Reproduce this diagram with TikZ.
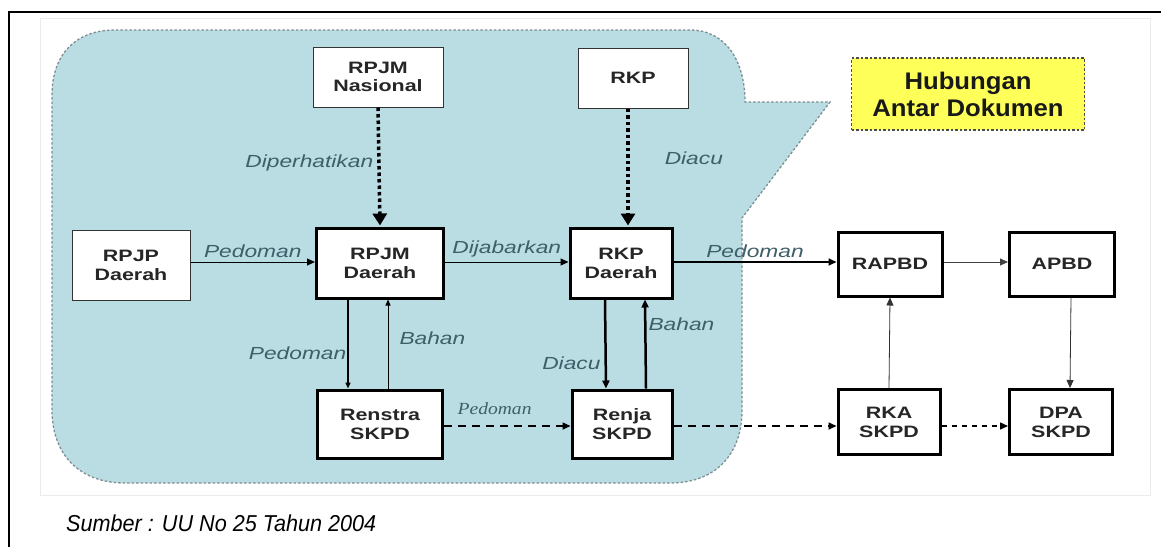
\documentclass[tikz,border=0pt]{standalone}
\usepackage{fontspec}
\setmainfont{Liberation Sans}[FakeStretch=1.3]
\newfontfamily\plainsans{Liberation Sans}[FakeStretch=0.94]
\newfontfamily\hubfont{Liberation Sans}[FakeStretch=1.07]
\newfontfamily\serifit{Liberation Serif}[FakeStretch=1.15]
\usetikzlibrary{arrows.meta}
\definecolor{calloutfill}{HTML}{B9DDE3}
\definecolor{calloutedge}{HTML}{7E8E92}
\definecolor{labelcol}{HTML}{3E5E68}
\definecolor{hubfill}{HTML}{FFFF5A}
\begin{document}
\begin{tikzpicture}[x=1pt,y=-1pt,
  doc/.style={draw=black!80,fill=white,line width=1pt,text=black!85,font=\bfseries\fontsize{16.5}{19}\selectfont,align=center,inner sep=0pt},
  docthick/.style={doc,line width=3pt,draw=black},
  lbl/.style={font=\itshape\fontsize{17.5}{19}\selectfont,text=labelcol,inner sep=1pt},
  tip/.style={-{Triangle[length=8pt,width=7pt]}},
  smalltip/.style={-{Triangle[length=6pt,width=5pt]}},
  dotarrow/.style={line width=3.5pt,dash pattern=on 3.5pt off 3pt,-{Triangle[length=12pt,width=14pt]},shorten >=1pt},
]
\useasboundingbox (0,0) rectangle (1161,547);
\fill[white] (0,0) rectangle (1161,547);
% frame
\draw[line width=1.2pt] (9,547) -- (9,12) -- (1161,12);
\draw[black!8,line width=0.8pt] (40,495) -- (40,18) -- (1150,18) -- (1150,495) -- cycle;
% callout
\draw[calloutedge,fill=calloutfill,line width=1.3pt,dash pattern=on 2.5pt off 2pt]
  (52,410) -- (52,95) .. controls (52,55) and (75,30) .. (115,30)
  -- (690,30) .. controls (725,30) and (745,60) .. (745,102)
  -- (830,102) -- (742,218) -- (742,410)
  .. controls (742,455) and (715,483) .. (670,483)
  -- (125,483) .. controls (80,483) and (52,455) .. (52,410) -- cycle;
% nodes
\node[doc,minimum width=130pt,minimum height=60pt] (rpjmn) at (378,77) {RPJM\\[-1pt]Nasional};
\node[doc,minimum width=110pt,minimum height=60pt] (rkp) at (633,78) {RKP};
\node[draw=black!70,fill=hubfill,dash pattern=on 2.5pt off 2pt,line width=1.3pt,minimum width=233pt,minimum height=72pt,align=center,font=\hubfont\bfseries\fontsize{24}{27}\selectfont,text=black!90,inner sep=0pt] (hub) at (968,94) {Hubungan\\Antar Dokumen};
\node[doc,minimum width=118pt,minimum height=70pt] (rpjp) at (131,265) {RPJP\\Daerah};
\node[docthick,minimum width=127pt,minimum height=70pt] (rpjmd) at (380,263) {RPJM\\Daerah};
\node[docthick,minimum width=102pt,minimum height=70pt] (rkpd) at (621,263) {RKP\\Daerah};
\node[docthick,minimum width=104pt,minimum height=64pt] (rapbd) at (890,264) {RAPBD};
\node[docthick,minimum width=105pt,minimum height=64pt] (apbd) at (1062,264) {APBD};
\node[docthick,minimum width=125pt,minimum height=68pt] (renstra) at (380,424) {Renstra\\SKPD};
\node[docthick,minimum width=100pt,minimum height=68pt] (renja) at (622,424) {Renja\\SKPD};
\node[docthick,minimum width=102pt,minimum height=65pt] (rka) at (889,422) {RKA\\SKPD};
\node[docthick,minimum width=103pt,minimum height=65pt] (dpa) at (1061,422) {DPA\\SKPD};
% dotted arrows
\draw[dotarrow] (rpjmn.south) -- (rpjmd.north) node[lbl,pos=0.47,left=3pt] {Diperhatikan};
\draw[dotarrow] (rkp.south -| 628,0) -- (rkpd.north -| 628,0) node[lbl,pos=0.42,right=34pt] {Diacu};
% horizontal solid
\draw[line width=1pt,tip] (rpjp.east |- 0,262) -- (rpjmd.west |- 0,262) node[lbl,midway,above=3pt] {Pedoman};
\draw[line width=1pt,tip] (rpjmd.east |- 0,262) -- (rkpd.west |- 0,262) node[lbl,midway,above=3pt] {Dijabarkan};
\draw[line width=1.6pt,tip] (rkpd.east |- 0,262) -- (rapbd.west |- 0,262) node[lbl,midway,above=3pt] {Pedoman};
\draw[line width=0.8pt,black!75,tip] (rapbd.east |- 0,262) -- (apbd.west |- 0,262);
% verticals right
\draw[line width=0.8pt,black!80,tip] (rka.north) -- (rapbd.south);
\draw[line width=0.8pt,black!80,tip] ([xshift=9pt]apbd.south) -- ([xshift=9pt]dpa.north);
% RPJM daerah <-> Renstra
\draw[line width=1.4pt,smalltip] ([xshift=-32pt]rpjmd.south) -- ([xshift=-32pt]renstra.north) node[lbl,pos=0.6,left=0pt] {Pedoman};
\draw[line width=1pt,smalltip] ([xshift=8pt]renstra.north) -- ([xshift=8pt]rpjmd.south) node[lbl,pos=0.57,right=10pt] {Bahan};
% RKP daerah <-> Renja
\draw[line width=2.5pt,tip] ([xshift=-16pt]rkpd.south) -- ([xshift=-16pt]renja.north) node[lbl,pos=0.72,left=3pt] {Diacu};
\draw[line width=2.5pt,tip] ([xshift=24pt]renja.north) -- ([xshift=24pt]rkpd.south) node[lbl,pos=0.72,right=1pt] {Bahan};
% dashed bottom
\draw[line width=1.6pt,dash pattern=on 8pt off 6pt,tip] (renstra.east |- 0,426) -- (renja.west |- 0,426) node[pos=0.4,above=10pt,font=\serifit\itshape\fontsize{17}{19}\selectfont,text=labelcol,inner sep=1pt] {Pedoman};
\draw[line width=1.6pt,dash pattern=on 8pt off 6pt,tip] (renja.east |- 0,426) -- (rka.west |- 0,426);
\draw[line width=1.4pt,dash pattern=on 5pt off 5pt,tip] (rka.east |- 0,426) -- (dpa.west |- 0,426);
% source
\node[anchor=west,font=\plainsans\itshape\fontsize{23}{26}\selectfont,inner sep=0pt] (src) at (66,523) {Sumber : UU No 25 Tahun 2004};
\end{tikzpicture}
\end{document}
